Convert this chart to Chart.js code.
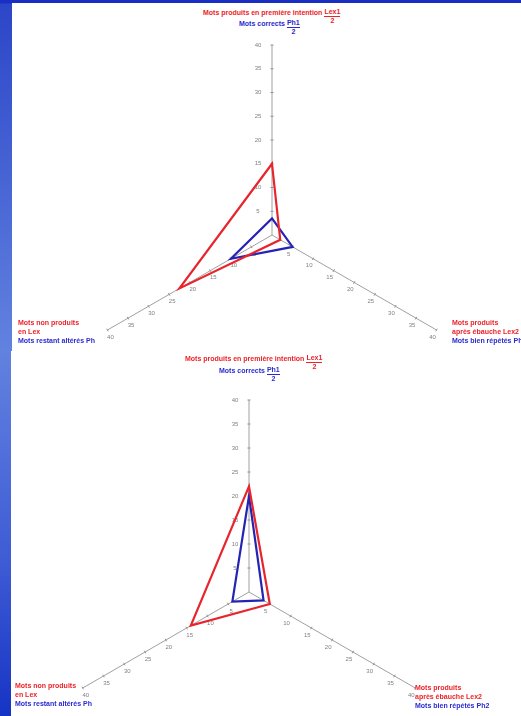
<!DOCTYPE html>
<html>
<head>
<meta charset="utf-8">
<script src="https://cdn.jsdelivr.net/npm/chart.js@4.4.1/dist/chart.umd.min.js"></script>
<style>
  html, body { margin: 0; padding: 0; }
  body {
    width: 521px; height: 716px; overflow: hidden; position: relative;
    background: linear-gradient(to bottom, #1a2ec4 0px, #1a2ec4 3px, #2c46c8 4px, #6282e0 350px, #3e5cd4 560px, #1634c4 716px);
    font-family: "Liberation Sans", Arial, sans-serif;
  }
  .panel { position: absolute; background: #fff; overflow: hidden; }
  .panel canvas { position: absolute; }
  .lbl { position: absolute; font-size: 7px; font-weight: bold; line-height: 9px; white-space: nowrap; }
  .red { color: #ec2228; }
  .blue { color: #2a2ad0; }
  .frac { display: inline-block; vertical-align: top; text-align: center; margin-left: 2px; }
  .frac .num { display: block; border-bottom: 1px solid currentColor; line-height: 8px; }
  .frac .den { display: block; line-height: 7px; }
</style>
</head>
<body>

<div class="panel" id="p1" style="left:12px; top:3px; width:509px; height:348px;">
  <canvas id="chart1" width="400" height="400" style="left:60px; top:32px;"></canvas>
  <div class="lbl red" style="left:191px; top:5px;">Mots produits en première intention<span class="frac"><span class="num">Lex1</span><span class="den">2</span></span></div>
  <div class="lbl blue" style="left:227px; top:16px;">Mots corrects<span class="frac"><span class="num">Ph1</span><span class="den">2</span></span></div>
  <div class="lbl" style="left:440px; top:315px;"><span class="red">Mots produits<br>après ébauche Lex2</span><br><span class="blue">Mots bien répétés Ph2</span></div>
  <div class="lbl" style="left:6px; top:315px;"><span class="red">Mots non produits<br>en Lex</span><br><span class="blue">Mots restant altérés Ph</span></div>
</div>

<div class="panel" id="p2" style="left:11px; top:351px; width:510px; height:365px;">
  <canvas id="chart2" width="404" height="404" style="left:36px; top:39px;"></canvas>
  <div class="lbl red" style="left:174px; top:3px;">Mots produits en première intention<span class="frac"><span class="num">Lex1</span><span class="den">2</span></span></div>
  <div class="lbl blue" style="left:208px; top:15px;">Mots corrects<span class="frac"><span class="num">Ph1</span><span class="den">2</span></span></div>
  <div class="lbl" style="left:404px; top:332px;"><span class="red">Mots produits<br>après ébauche Lex2</span><br><span class="blue">Mots bien répétés Ph2</span></div>
  <div class="lbl" style="left:4px; top:330px;"><span class="red">Mots non produits<br>en Lex</span><br><span class="blue">Mots restant altérés Ph</span></div>
</div>

<script>
// axes: top, lower right, lower left
const axes = ["Lex1 / Ph1", "Lex2 / Ph2", "Lex / Ph"];
const tickValues = [5, 10, 15, 20, 25, 30, 35, 40];

// first chart
const lexFirst = [15, 2, 22.5];
const phFirst = [3.5, 5, 10];

// second chart
const lexSecond = [22, 5, 14];
const phSecond = [20, 3.5, 4];

const RED = "#e8242c";
const BLUE = "#2424b4";

// tick labels drawn along every axis, not only the vertical one
const labelOffsets = [[-14, 0], [-4, 7], [3, 7]];

const axisTicks = {
    id: "axisTicks",
    beforeDatasetsDraw(chart) {
        const r = chart.scales.r;
        const ctx = chart.ctx;
        ctx.save();
        ctx.font = '6px "Liberation Sans", Arial, sans-serif';
        ctx.fillStyle = "#808080";
        ctx.strokeStyle = "#909090";
        ctx.lineWidth = 1;
        ctx.textAlign = "center";
        ctx.textBaseline = "middle";
        for (let i = 0; i < axes.length; i++) {
            const a = r.getIndexAngle(i) - Math.PI / 2;
            const nx = -Math.sin(a), ny = Math.cos(a);
            tickValues.forEach(v => {
                const p = r.getPointPositionForValue(i, v);
                ctx.beginPath();
                ctx.moveTo(p.x - nx * 1.5, p.y - ny * 1.5);
                ctx.lineTo(p.x + nx * 1.5, p.y + ny * 1.5);
                ctx.stroke();
                ctx.fillText(String(v), p.x + labelOffsets[i][0], p.y + labelOffsets[i][1]);
            });
        }
        ctx.restore();
    }
};

function makeRadar(id, lexData, phData) {
    const ctx = document.getElementById(id).getContext("2d");
    return new Chart(ctx, {
        type: "radar",
        data: {
            labels: axes,
            datasets: [{
                label: "Lex",
                data: lexData,
                borderColor: RED,
                borderWidth: 2.2,
                fill: false,
                pointRadius: 0,
                tension: 0,
            }, {
                label: "Ph",
                data: phData,
                borderColor: BLUE,
                borderWidth: 2.2,
                fill: false,
                pointRadius: 0,
                tension: 0,
            }],
        },
        options: {
            responsive: false,
            animation: false,
            devicePixelRatio: 1,
            layout: { padding: 10 },
            elements: { line: { borderJoinStyle: "miter" } },
            plugins: { legend: { display: false }, tooltip: { enabled: false } },
            scales: {
                r: {
                    min: 0,
                    max: 40,
                    ticks: { display: false, stepSize: 5 },
                    grid: { display: false },
                    angleLines: { display: true, color: "#a0a0a0", lineWidth: 1 },
                    pointLabels: { display: false },
                },
            },
        },
        plugins: [axisTicks],
    });
}

makeRadar("chart1", lexFirst, phFirst);
makeRadar("chart2", lexSecond, phSecond);
</script>
</body>
</html>
